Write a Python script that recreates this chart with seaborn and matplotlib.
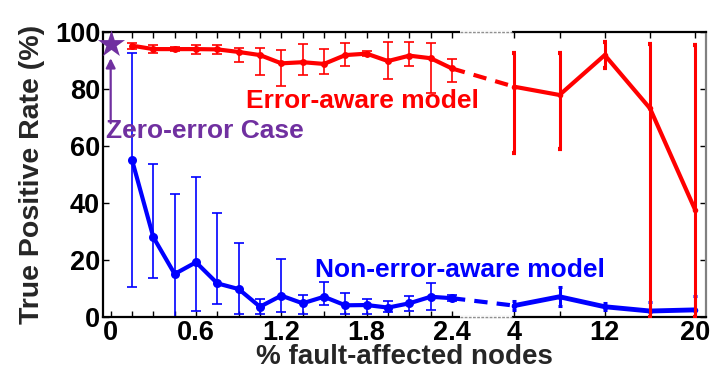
import numpy as np
import matplotlib
matplotlib.use('Agg')
import matplotlib.pyplot as plt
import matplotlib.transforms as mtransforms
import seaborn as sns

# ---------------- data ----------------
x_left = [0.15, 0.3, 0.45, 0.6, 0.75, 0.9, 1.05, 1.2, 1.35, 1.5, 1.65, 1.8, 1.95, 2.1, 2.25, 2.4]
x_right = [4, 8, 12, 16, 20]

red_left = [95.2, 94.0, 94.0, 94.0, 93.9, 93.0, 91.9, 89.0, 89.4, 88.8, 91.9, 92.4, 89.8, 91.7, 90.8, 87.2]
red_left_hi = [96.2, 95.3, 94.8, 95.6, 95.4, 94.5, 94.3, 93.7, 95.7, 93.9, 96.3, 93.3, 96.4, 96.6, 96.0, 90.4]
red_left_lo = [94.2, 92.7, 93.2, 92.4, 92.4, 89.6, 85.0, 81.1, 84.9, 85.3, 88.1, 91.5, 83.6, 88.2, 78.5, 82.6]
red_right = [80.8, 77.9, 91.9, 73.2, 37.5]
red_right_hi = [92.5, 92.7, 96.4, 95.9, 95.4]
red_right_lo = [57.7, 58.8, 87.3, 0.0, 0.0]

blue_left = [55.1, 28.0, 15.1, 19.2, 11.8, 9.8, 3.6, 7.5, 4.8, 7.1, 4.1, 4.2, 3.3, 4.8, 7.1, 6.6]
blue_left_hi = [92.7, 53.7, 43.0, 49.2, 36.4, 25.8, 6.3, 20.2, 7.8, 12.2, 8.3, 6.2, 5.7, 7.4, 11.8, 7.6]
blue_left_lo = [10.6, 13.8, 0.1, 2.1, 4.6, 1.1, 1.1, 1.6, 1.2, 4.3, 1.1, 1.1, 1.6, 2.1, 2.5, 5.6]
blue_right = [4.0, 7.1, 3.6, 2.1, 2.5]
blue_right_hi = [5.5, 10.4, 4.9, 5.3, 7.5]
blue_right_lo = [2.5, 4.0, 2.3, 0.0, 0.0]

star_x = [0]
star_y = [95.7]

tick_pos = [0, 0.15, 0.3, 0.45, 0.6, 0.75, 0.9, 1.05, 1.2, 1.35, 1.5, 1.65, 1.8, 1.95, 2.1, 2.25, 2.4,
            4, 8, 12, 16, 20]
tick_lab = ['0', '', '', '', '0.6', '', '', '', '1.2', '', '', '', '1.8', '', '', '', '2.4',
            '4', '', '12', '', '20']
y_ticks = [0, 20, 40, 60, 80, 100]

RED = '#FF0000'
BLUE = '#0000FF'
PURPLE = '#7030A0'

# ---------------- style ----------------
sns.set_style('white')
plt.rcParams['font.family'] = ['Liberation Sans', 'DejaVu Sans']
plt.rcParams['font.weight'] = 'bold'

fig = plt.figure(figsize=(7.11, 3.71), dpi=100)
ax = fig.add_axes([103 / 711, 1 - 317 / 371, (706 - 103) / 711, (317 - 32) / 371])

# piecewise (broken) x scale
_bx = np.array([-5.0, 2.4, 4.0, 40.0])
_bp = np.array([-5.0 / 0.15, 16.0, 16.0 + 62.3 / 21.33, 16.0 + 62.3 / 21.33 + 36.0 * (45.25 / 4 / 21.33)])


def fwd(v):
    return np.interp(v, _bx, _bp)


def inv(v):
    return np.interp(v, _bp, _bx)


ax.set_xscale('function', functions=(fwd, inv))
ax.set_xlim(-0.054, 20.95)
ax.set_ylim(0, 100)


def yerr(y, lo, hi):
    y = np.asarray(y); lo = np.asarray(lo); hi = np.asarray(hi)
    return [y - lo, hi - y]


# ---- blue (non-error-aware) ----
ax.errorbar(x_left, blue_left, yerr=yerr(blue_left, blue_left_lo, blue_left_hi), fmt='none',
            ecolor=BLUE, elinewidth=1.2, capsize=3.5, capthick=1.2, zorder=2)
ax.errorbar(x_right, blue_right, yerr=yerr(blue_right, blue_right_lo, blue_right_hi), fmt='none',
            ecolor=BLUE, elinewidth=2.2, capsize=1.2, capthick=2.2, zorder=2)
sns.lineplot(x=x_left, y=blue_left, ax=ax, color=BLUE, lw=3, marker='o', ms=6.5,
             markeredgewidth=0, zorder=3)
sns.lineplot(x=[x_left[-1], x_right[0]], y=[blue_left[-1], blue_right[0]], ax=ax, color=BLUE,
             lw=3, linestyle=(0, (3.2, 2.2)), zorder=3)
sns.lineplot(x=x_right, y=blue_right, ax=ax, color=BLUE, lw=3.5, marker='o', ms=4,
             markeredgewidth=0, zorder=3)

# ---- red (error-aware) ----
ax.errorbar(x_left, red_left, yerr=yerr(red_left, red_left_lo, red_left_hi), fmt='none',
            ecolor=RED, elinewidth=1.2, capsize=3.5, capthick=1.2, zorder=4)
ax.errorbar(x_right, red_right, yerr=yerr(red_right, red_right_lo, red_right_hi), fmt='none',
            ecolor=RED, elinewidth=2.2, capsize=1.2, capthick=3, zorder=4)
sns.lineplot(x=x_left, y=red_left, ax=ax, color=RED, lw=3, marker='o', ms=5,
             markeredgewidth=0, zorder=5)
sns.lineplot(x=[x_left[-1], x_right[0]], y=[red_left[-1], red_right[0]], ax=ax, color=RED,
             lw=3, linestyle=(0, (3.2, 2.2)), zorder=5)
sns.lineplot(x=x_right, y=red_right, ax=ax, color=RED, lw=3, marker='o', ms=4,
             markeredgewidth=0, zorder=5)

# ---- zero-error star ----
sns.scatterplot(x=star_x, y=star_y, ax=ax, color=PURPLE, marker='*', s=420, linewidth=0,
                zorder=6, clip_on=False)
ax.annotate('', xy=(0, 90.8), xytext=(0, 68.0),
            arrowprops=dict(arrowstyle='-|>', color=PURPLE, lw=1.6, mutation_scale=14,
                            shrinkA=0, shrinkB=0), zorder=6)

# ---- annotations ----
ax.text(-0.033, 62.8, 'Zero-error Case', color=PURPLE, fontsize=19, fontweight='bold',
        ha='left', va='baseline')
ax.text(0.951, 73.3, 'Error-aware model', color=RED, fontsize=19, fontweight='bold',
        ha='left', va='baseline')
ax.text(1.437, 13.9, 'Non-error-aware model', color=BLUE, fontsize=19, fontweight='bold',
        ha='left', va='baseline')

# ---- axes styling ----
ax.set_xticks(tick_pos)
ax.set_xticklabels(tick_lab)
ax.set_yticks(y_ticks)
ax.set_yticklabels([str(v) for v in y_ticks])
ax.tick_params(axis='both', which='major', direction='in', length=4, width=1,
               labelsize=19.5, pad=2, colors='black')
ax.tick_params(axis='x', top=True, bottom=True, pad=2)
ax.tick_params(axis='y', left=True, right=True, pad=2)
for lab in ax.get_xticklabels() + ax.get_yticklabels():
    lab.set_fontweight('bold')

for s in ['left', 'top', 'bottom']:
    ax.spines[s].set_color('black')
    ax.spines[s].set_linewidth(1.6)
ax.spines['right'].set_color('#808080')
ax.spines['right'].set_linewidth(1.6)

ax.set_xlabel('% fault-affected nodes', fontsize=20, fontweight='bold')
ax.xaxis.label.set_va('baseline')
ax.xaxis.set_label_coords(0.5, (317 - 364) / 285)
ax.set_ylabel('True Positive Rate (%)', fontsize=20.5, fontweight='bold', labelpad=7)

# axis break marks on top & bottom spine
trans = mtransforms.blended_transform_factory(ax.transData, ax.transAxes)
for yy in (0, 1):
    ax.plot([2.605, 3.94], [yy, yy], transform=trans, color='white', lw=2.6,
            clip_on=False, zorder=10, solid_capstyle='butt')
    ax.plot([2.605, 3.94], [yy, yy], transform=trans, color='#909090', lw=1.0,
            linestyle=(0, (2, 1)), clip_on=False, zorder=11)

fig.savefig('out.png', dpi=100)
